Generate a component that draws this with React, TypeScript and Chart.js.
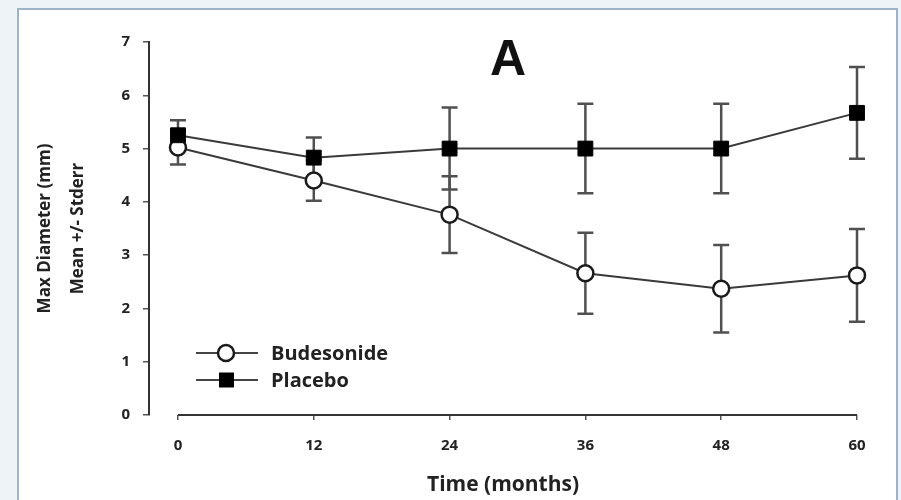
import React, { useEffect, useRef } from 'react';
import { Chart, registerables } from 'chart.js';

Chart.register(...registerables);

// ---- Data ----
const months = [0, 12, 24, 36, 48, 60];
const budesonideMean = [5.02, 4.4, 3.76, 2.66, 2.37, 2.62];
const budesonideErr = [0.32, 0.38, 0.72, 0.76, 0.82, 0.87];
const placeboMean = [5.25, 4.83, 5.0, 5.0, 5.0, 5.67];
const placeboErr = [0.28, 0.38, 0.77, 0.84, 0.84, 0.86];
const yTicks = [0, 1, 2, 3, 4, 5, 6, 7];
const seriesLabels = ['Budesonide', 'Placebo'];
const panelLabel = 'A';
const xTitle = 'Time (months)';
const yTitle = ['Max Diameter (mm)', 'Mean +/- Stderr'];

const FONT = "'Open Sans', 'Liberation Sans', sans-serif";

const bgPlugin = {
  id: 'bgFrame',
  beforeDraw(chart: any) {
    const { ctx, width, height } = chart;
    ctx.save();
    ctx.fillStyle = '#eef3f8';
    ctx.fillRect(0, 0, width, height);
    ctx.fillStyle = '#ffffff';
    ctx.fillRect(18, 9, 879, height);
    ctx.strokeStyle = '#9fb3c8';
    ctx.lineWidth = 2;
    ctx.strokeRect(18, 9, 879, height + 10);
    ctx.restore();
  },
};

const errorBarPlugin = {
  id: 'errorBars',
  beforeDatasetsDraw(chart: any) {
    const { ctx } = chart;
    const x = chart.scales.x;
    const y = chart.scales.y;
    ctx.save();
    ctx.strokeStyle = '#505050';
    ctx.lineWidth = 2.5;
    chart.data.datasets.forEach((ds: any) => {
      const errs: number[] = ds.errors || [];
      ds.data.forEach((pt: any, i: number) => {
        const e = errs[i];
        if (e == null) return;
        const px = x.getPixelForValue(pt.x);
        const top = y.getPixelForValue(pt.y + e);
        const bot = y.getPixelForValue(pt.y - e);
        const cap = 8;
        ctx.beginPath();
        ctx.moveTo(px, top);
        ctx.lineTo(px, bot);
        ctx.moveTo(px - cap, top);
        ctx.lineTo(px + cap, top);
        ctx.moveTo(px - cap, bot);
        ctx.lineTo(px + cap, bot);
        ctx.stroke();
      });
    });
    ctx.restore();
  },
};

const xAxisLinePlugin = {
  id: 'xAxisLine',
  beforeDatasetsDraw(chart: any) {
    const { ctx, chartArea } = chart;
    const x = chart.scales.x;
    const x0 = x.getPixelForValue(months[0]);
    const x1 = x.getPixelForValue(months[months.length - 1]);
    ctx.save();
    ctx.strokeStyle = '#333';
    ctx.lineWidth = 2;
    ctx.beginPath();
    ctx.moveTo(x0, chartArea.bottom);
    ctx.lineTo(x1, chartArea.bottom);
    ctx.stroke();
    ctx.restore();
  },
};

const legendPlugin = {
  id: 'customLegend',
  afterDraw(chart: any) {
    const { ctx } = chart;
    const rows = [
      { y: 353, ds: chart.data.datasets[0] },
      { y: 380, ds: chart.data.datasets[1] },
    ];
    ctx.save();
    rows.forEach(({ y, ds }) => {
      ctx.strokeStyle = '#444';
      ctx.lineWidth = 2;
      ctx.beginPath();
      ctx.moveTo(196, y);
      ctx.lineTo(258, y);
      ctx.stroke();
      if (ds.pointStyle === 'circle') {
        ctx.beginPath();
        ctx.arc(226, y, 8, 0, Math.PI * 2);
        ctx.fillStyle = '#fff';
        ctx.fill();
        ctx.lineWidth = 2.5;
        ctx.strokeStyle = '#1a1a1a';
        ctx.stroke();
      } else {
        ctx.fillStyle = '#000';
        ctx.fillRect(219, y - 7.5, 15, 15);
      }
      ctx.fillStyle = '#222';
      ctx.font = `bold 20px ${FONT}`;
      ctx.textAlign = 'left';
      ctx.textBaseline = 'middle';
      ctx.fillText(ds.label, 271, y + 1);
    });
    ctx.restore();
  },
};

const panelLabelPlugin = {
  id: 'panelLabel',
  afterDraw(chart: any) {
    const { ctx } = chart;
    ctx.save();
    ctx.fillStyle = '#111';
    ctx.font = `bold 50px 'Liberation Sans', Arial, sans-serif`;
    ctx.textAlign = 'center';
    ctx.textBaseline = 'alphabetic';
    ctx.fillText(panelLabel, 508, 75);
    ctx.restore();
  },
};

export default function App() {
  const ref = useRef<HTMLCanvasElement>(null);

  useEffect(() => {
    const canvas = ref.current!;
    const chart = new Chart(canvas, {
      type: 'line',
      data: {
        datasets: [
          {
            label: seriesLabels[0],
            data: months.map((m, i) => ({ x: m, y: budesonideMean[i] })),
            errors: budesonideErr,
            borderColor: '#3a3a3a',
            borderWidth: 2,
            pointStyle: 'circle',
            pointRadius: 8,
            pointBackgroundColor: '#ffffff',
            pointBorderColor: '#1a1a1a',
            pointBorderWidth: 2.5,
            clip: false,
            order: 1,
          } as any,
          {
            label: seriesLabels[1],
            data: months.map((m, i) => ({ x: m, y: placeboMean[i] })),
            errors: placeboErr,
            borderColor: '#3a3a3a',
            borderWidth: 2,
            pointStyle: 'rect',
            pointRadius: 10.5,
            pointBackgroundColor: '#000000',
            pointBorderColor: '#000000',
            pointBorderWidth: 1,
            clip: false,
            order: 0,
          } as any,
        ],
      },
      options: {
        responsive: false,
        animation: false,
        layout: { padding: { left: 0, top: 42, right: 44, bottom: 0 } },
        plugins: {
          legend: { display: false },
          tooltip: { enabled: false },
          title: { display: false },
        },
        scales: {
          x: {
            type: 'linear',
            min: -2.56,
            max: 60,
            afterBuildTicks: (s: any) => {
              s.ticks = months.map((v) => ({ value: v }));
            },
            afterFit: (s: any) => {
              s.height = 85;
            },
            border: { display: false },
            grid: {
              drawOnChartArea: false,
              drawTicks: true,
              tickLength: 5,
              color: '#555',
              lineWidth: 1.5,
            },
            ticks: {
              color: '#222',
              font: { family: FONT, size: 15, weight: 'bold' },
              padding: 17,
              maxRotation: 0,
              autoSkip: false,
            },
            title: {
              display: true,
              text: xTitle,
              color: '#222',
              font: { family: FONT, size: 21, weight: 'bold', lineHeight: 1.2 },
              padding: { top: 0, bottom: 2 },
            },
          },
          y: {
            min: 0,
            max: 7,
            afterBuildTicks: (s: any) => {
              s.ticks = yTicks.map((v) => ({ value: v }));
            },
            afterFit: (s: any) => {
              s.width = 149;
            },
            border: { display: true, color: '#333', width: 2 },
            grid: {
              drawOnChartArea: false,
              drawTicks: true,
              tickLength: 6,
              color: '#555',
              lineWidth: 1.5,
            },
            ticks: {
              color: '#222',
              font: { family: FONT, size: 15, weight: 'bold' },
              padding: 13,
            },
            title: {
              display: true,
              text: yTitle,
              color: '#222',
              font: { family: FONT, size: 17, weight: 'bold', lineHeight: 33 / 17 },
              padding: { top: 28.5, bottom: 0 },
            },
          },
        },
      } as any,
      plugins: [bgPlugin, errorBarPlugin, xAxisLinePlugin, legendPlugin, panelLabelPlugin],
    });
    return () => chart.destroy();
  }, []);

  return (
    <div style={{ position: 'absolute', left: 0, top: 0, width: 901, height: 500 }}>
      <canvas ref={ref} width={901} height={500} />
    </div>
  );
}
